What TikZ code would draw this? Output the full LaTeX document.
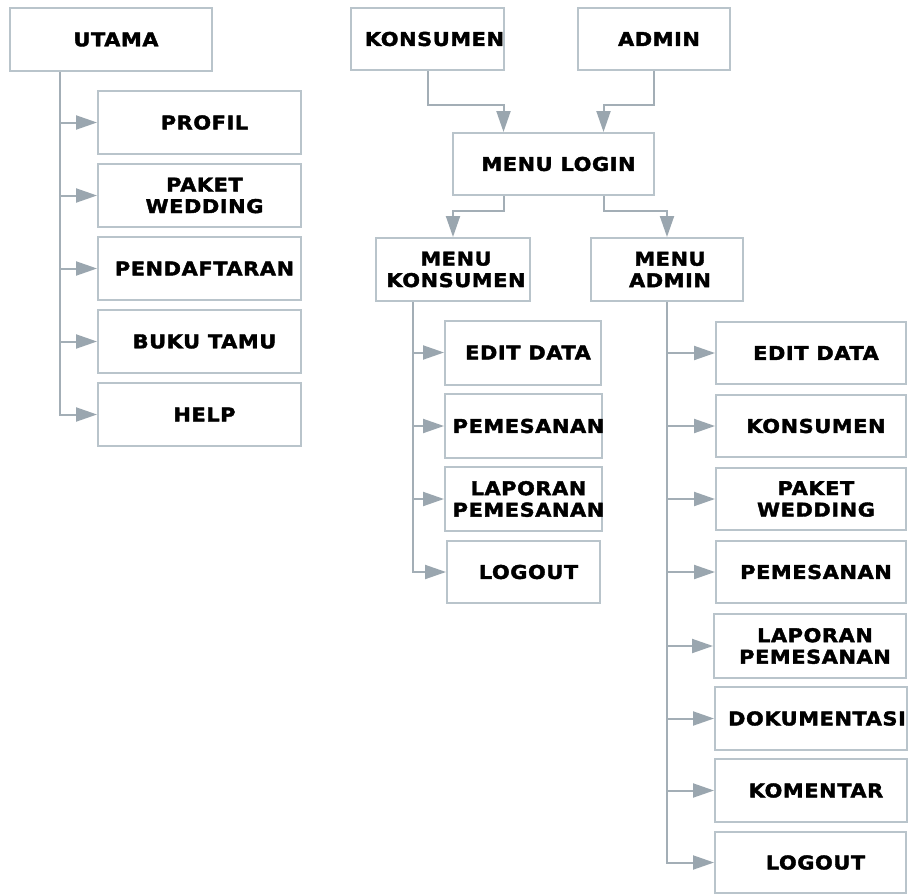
\documentclass[tikz,border=0pt]{standalone}
\usepackage{fontspec}
\newfontfamily\lblfam[FakeStretch=1.1,LetterSpace=3,FakeBold=2]{DejaVu Sans Bold}
\usetikzlibrary{arrows.meta}
\definecolor{boxc}{HTML}{B9C4CB}
\definecolor{linec}{HTML}{A3AEB6}
\definecolor{tipc}{HTML}{9AA6AF}
\tikzset{
  box/.style={draw=boxc, line width=2pt, fill=white, inner sep=0pt},
  lbl/.style={align=center, inner sep=0pt, font=\lblfam\fontsize{19}{21.5}\selectfont},
  conn/.style={draw=linec, line width=2pt, -{Triangle[length=21pt,width=14pt,fill=tipc,color=tipc]}}
}
\newcommand{\bx}[7]{%
  \node[box, minimum width=#4pt, minimum height=#5pt] (#1) at (#2,#3) {};
  \node[lbl] (#1-t) at ([xshift=#6pt]#1.center) {#7};
}
\begin{document}
\begin{tikzpicture}[x=1pt,y=-1pt]
\useasboundingbox (0,0) rectangle (911,895);
\fill[white] (0,0) rectangle (911,895);
% left column
\bx{utama}{111}{39.5}{202}{63}{5}{UTAMA}
\bx{profil}{199.5}{122.5}{203}{63}{5}{PROFIL}
\bx{paket}{199.5}{195.5}{203}{63}{5}{PAKET\\WEDDING}
\bx{daftar}{199.5}{268.5}{203}{63}{5}{PENDAFTARAN}
\bx{buku}{199.5}{341.5}{203}{63}{5}{BUKU TAMU}
\bx{help}{199.5}{414.5}{203}{63}{5}{HELP}
% top middle
\bx{kons}{427.5}{39}{153}{62}{7}{KONSUMEN}
\bx{admin}{654}{39}{152}{62}{5}{ADMIN}
\bx{login}{553.5}{164}{201}{62}{5}{MENU LOGIN}
\bx{mkons}{453}{269.5}{154}{63}{3}{MENU\\KONSUMEN}
\bx{madmin}{667}{269.5}{152}{63}{3}{MENU\\ADMIN}
% konsumen menu
\bx{k1}{523}{352.5}{156}{64}{5}{EDIT DATA}
\bx{k2}{523.5}{426}{157}{64}{5}{PEMESANAN}
\bx{k3}{523.5}{499}{157}{64}{5}{LAPORAN\\PEMESANAN}
\bx{k4}{523.5}{572}{153}{62}{5}{LOGOUT}
% admin menu
\bx{a1}{811}{353}{190}{62}{5}{EDIT DATA}
\bx{a2}{811}{426}{190}{62}{5}{KONSUMEN}
\bx{a3}{811}{499}{190}{62}{5}{PAKET\\WEDDING}
\bx{a4}{811}{572}{190}{62}{5}{PEMESANAN}
\bx{a5}{810}{646}{192}{64}{5}{LAPORAN\\PEMESANAN}
\bx{a6}{811}{718.5}{192}{63}{6}{DOKUMENTASI}
\bx{a7}{811}{790.5}{192}{63}{5}{KOMENTAR}
\bx{a8}{810.5}{862.5}{191}{61}{5}{LOGOUT}
% connectors
\coordinate (u0) at ([xshift=51pt]utama.south west);
\foreach \t in {profil,paket,daftar,buku,help} \draw[conn] (u0) |- (\t.west);
\draw[conn] (kons.south) -- ++(0,34) -| ([xshift=-50pt]login.north);
\draw[conn] (admin.south) -- ++(0,34) -| ([xshift=50pt]login.north);
\draw[conn] ([xshift=-50pt]login.south) -- ++(0,15) -| (mkons.north);
\draw[conn] ([xshift=50pt]login.south) -- ++(0,15) -| (madmin.north);
\coordinate (k0) at ([xshift=38pt]mkons.south west);
\foreach \t in {k1,k2,k3,k4} \draw[conn] (k0) |- (\t.west);
\coordinate (a0) at (madmin.south);
\foreach \t in {a1,a2,a3,a4,a5,a6,a7,a8} \draw[conn] (a0) |- (\t.west);
\end{tikzpicture}
\end{document}
